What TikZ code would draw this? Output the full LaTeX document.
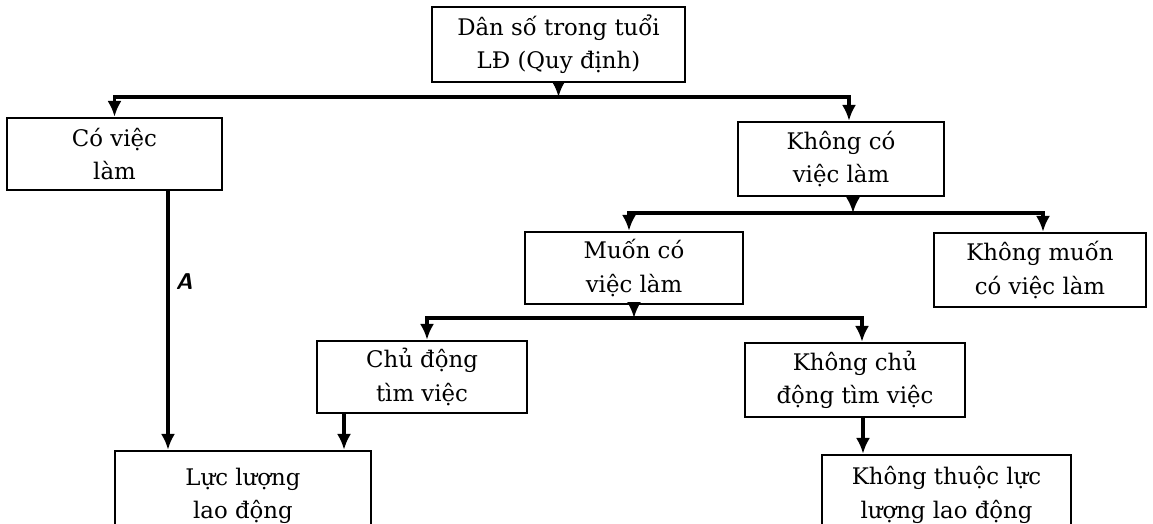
\documentclass[tikz,border=0pt]{standalone}
\usepackage{fontspec}
\setmainfont{DejaVu Serif}
\usepackage{tikz}
\usetikzlibrary{arrows.meta}
\tikzset{
    khung/.style={draw, line width=1.4pt, align=center, inner sep=0pt,
    font=\fontsize{13}{19}\selectfont},
    muiten/.style={line width=2.2pt, -{Latex[length=9pt,width=8pt]}}
}

\begin{document}
\begin{tikzpicture}[x=0.02cm,y=-0.02cm]
\useasboundingbox (0,0) rectangle (1153,524);
\clip (0,0) rectangle (1153,524);
\node[khung, minimum width=5.06cm, minimum height=1.5cm] (DS) at (558.5,44.5) {Dân số trong tuổi\\LĐ (Quy định)};
\node[khung, minimum width=4.3cm, minimum height=1.44cm] (CV) at (114.5,154) {Có việc\\làm};
\node[khung, minimum width=4.12cm, minimum height=1.48cm] (KC) at (841,159) {Không có\\việc làm};
\node[khung, minimum width=4.36cm, minimum height=1.44cm] (MC) at (634,268) {Muốn có\\việc làm};
\node[khung, minimum width=4.24cm, minimum height=1.48cm] (KM) at (1040,270) {Không muốn\\có việc làm};
\node[khung, minimum width=4.2cm, minimum height=1.44cm] (CD) at (422,377) {Chủ động\\tìm việc};
\node[khung, minimum width=4.4cm, minimum height=1.48cm] (KCD) at (855,380) {Không chủ\\động tìm việc};
\node[khung, minimum width=5.12cm, minimum height=1.8cm] (LL) at (243,496) {Lực lượng\\lao động};
\node[khung, minimum width=4.98cm, minimum height=1.6cm] (KT) at (946.5,495) {Không thuộc lực\\lượng lao động};
% cac thanh ngang
\coordinate (b1) at (0,97);
\coordinate (b2) at (0,213);
\coordinate (b3) at (0,318);
\draw[muiten] (DS) -- (DS |- b1);
\draw[muiten] (DS |- b1) -| (CV.north);
\draw[muiten] (DS |- b1) -| ([xshift=0.16cm]KC.north);
\coordinate (kc1) at ([xshift=0.24cm]KC.south);
\draw[muiten] (kc1) -- (kc1 |- b2);
\draw[muiten] (kc1 |- b2) -| ([xshift=-0.1cm]MC.north);
\draw[muiten] (kc1 |- b2) -| ([xshift=0.06cm]KM.north);
\draw[muiten] (MC) -- (MC |- b3);
\draw[muiten] (MC |- b3) -| ([xshift=0.1cm]CD.north);
\draw[muiten] (MC |- b3) -| ([xshift=0.14cm]KCD.north);
% xuong hang cuoi
\coordinate (kcd1) at ([xshift=0.16cm]KCD.south);
\draw[muiten] (kcd1) -- (kcd1 |- KT.north);
\coordinate (cd1) at ([xshift=-1.56cm]CD.south);
\draw[muiten] (cd1) -- (cd1 |- LL.north);
\coordinate (cv1) at ([xshift=1.07cm]CV.south);
\draw[muiten] (cv1) -- (cv1 |- LL.north) node[pos=0.35, right, font=\fontsize{13}{15}\sffamily\bfseries\itshape]{A};
\end{tikzpicture}
\end{document}
